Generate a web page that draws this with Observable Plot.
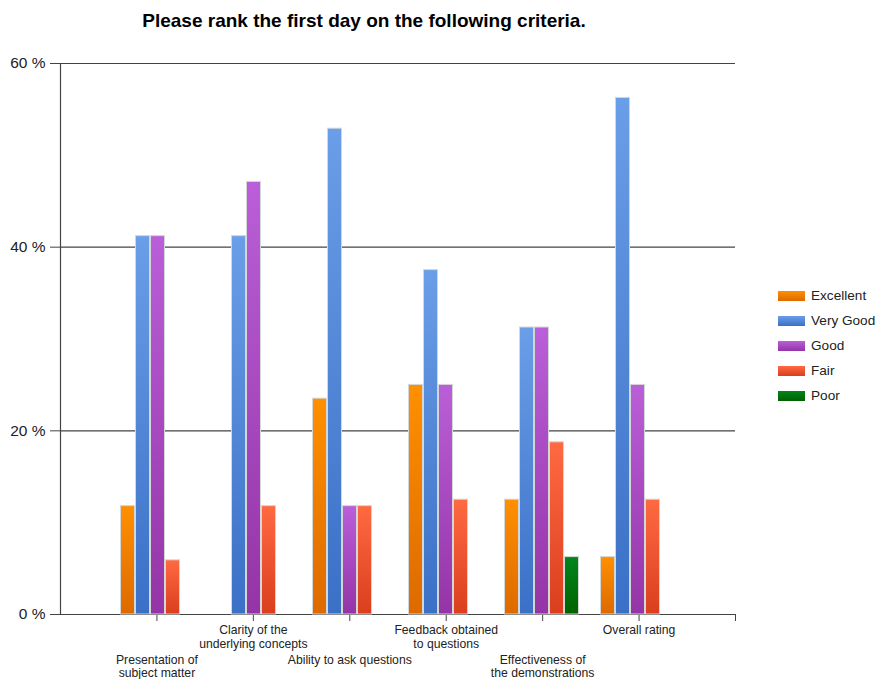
<!DOCTYPE html>
<html><head><meta charset="utf-8">
<script src="https://cdn.jsdelivr.net/npm/d3@7"></script>
<script src="https://cdn.jsdelivr.net/npm/@observablehq/plot@0.6"></script>
<style>
body{margin:0;background:#fff;font-family:"Liberation Sans",Arial,sans-serif;}
#wrap{position:relative;width:875px;height:679px;overflow:hidden;}
#wrap svg{position:absolute;left:0;top:0;}
#title{position:absolute;left:0;top:10px;width:728px;text-align:center;font-weight:bold;font-size:19px;color:#000;}
#legend{position:absolute;left:778px;top:283px;font-size:13.6px;color:#222;white-space:nowrap;}
.item{display:flex;align-items:center;height:25px;white-space:nowrap;}
.sw{width:27px;height:10px;margin-right:6px;flex:none;}
</style></head><body>
<div id="wrap"><div id="title">Please rank the first day on the following criteria.</div><div id="legend"></div></div>
<script>
const categories = ["Presentation of\nsubject matter", "Clarity of the\nunderlying concepts", "Ability to ask questions", "Feedback obtained\nto questions", "Effectiveness of\nthe demonstrations", "Overall rating"];
const seriesNames = ["Excellent", "Very Good", "Good", "Fair", "Poor"];
const excellent = [11.8, 0, 23.5, 25, 12.5, 6.25];
const veryGood = [41.2, 41.2, 52.9, 37.5, 31.25, 56.25];
const good = [41.2, 47.1, 11.8, 25, 31.25, 25];
const fair = [5.9, 11.8, 11.8, 12.5, 18.75, 12.5];
const poor = [0, 0, 0, 0, 6.25, 0];
const yTicks = [0, 20, 40, 60];
const gradTop = ["#ff9000", "#6a9ee8", "#ba5fd9", "#ff6a42", "#00861c"];
const gradBottom = ["#dc6a00", "#3a70c6", "#9434a6", "#da3e1e", "#006200"];

const seriesValues = [excellent, veryGood, good, fair, poor];
const data = [];
categories.forEach((c, i) => seriesNames.forEach((s, j) => data.push({cat: c, series: s, value: seriesValues[j][i]})));
const labels = categories.map((c, i) => ({cat: c, pos: i + 1, idx: i}));

const W = 875, H = 679, mt = 63, mb = 65, ml = 60, mr = 140;
const font = '"Liberation Sans", Arial, sans-serif';
const axisColor = "#444";

const base = Plot.plot({
  width: W, height: H, marginTop: mt, marginBottom: mb, marginLeft: ml, marginRight: mr,
  style: {fontFamily: font, fontSize: "13px", color: "#222", background: "transparent", overflow: "visible"},
  x: {domain: [0, categories.length + 1], label: null},
  y: {domain: [0, 60], label: null},
  marks: [
    Plot.ruleY(yTicks.filter(d => d > 0), {stroke: axisColor, strokeWidth: 1.2}),
    Plot.axisY({ticks: yTicks, tickSize: 10, tickPadding: 5, tickFormat: d => d + " %", stroke: axisColor, fill: "#222", fontSize: 15.5, label: null}),
    Plot.axisX({ticks: d3.range(1, categories.length + 2), tickSize: 7, tickFormat: () => "", stroke: axisColor, label: null}),
    Plot.ruleY([0], {stroke: axisColor, strokeWidth: 1.2}),
    Plot.ruleX([0], {stroke: axisColor, strokeWidth: 1.2}),
    Plot.text(labels.filter(d => d.idx % 2 === 1), {x: "pos", y: 0, text: "cat", lineAnchor: "top", dy: 10, fontSize: 12.2, lineHeight: 1.15, fill: "#222"}),
    Plot.text(labels.filter(d => d.idx % 2 === 0), {x: "pos", y: 0, text: "cat", lineAnchor: "top", dy: 40, fontSize: 12.2, lineHeight: 1.1, fill: "#222"})
  ]
});

const bars = Plot.plot({
  width: W, height: H, marginTop: mt, marginBottom: mb, marginLeft: ml, marginRight: mr,
  style: {background: "transparent", overflow: "visible"},
  fx: {domain: categories, paddingInner: 0.18, paddingOuter: 0.59, axis: null, label: null},
  x: {domain: seriesNames, padding: 0, axis: null},
  y: {domain: [0, 60], axis: null},
  color: {domain: seriesNames, range: seriesNames.map((s, i) => `url(#grad${i})`)},
  marks: [
    Plot.barY(data.filter(d => d.value > 0), {fx: "cat", x: "series", y: "value", fill: "series", stroke: "#d6d6d6", strokeWidth: 1, insetLeft: 0.5, insetRight: 0.5})
  ]
});

const defs = d3.select(bars).insert("defs", ":first-child");
seriesNames.forEach((s, i) => {
  const g = defs.append("linearGradient").attr("id", `grad${i}`).attr("x1", 0).attr("y1", 0).attr("x2", 0).attr("y2", 1);
  g.append("stop").attr("offset", "0%").attr("stop-color", gradTop[i]);
  g.append("stop").attr("offset", "100%").attr("stop-color", gradBottom[i]);
});

const wrap = document.getElementById("wrap");
wrap.insertBefore(base, wrap.firstChild);
wrap.insertBefore(bars, base.nextSibling);

const legend = document.getElementById("legend");
seriesNames.forEach((s, i) => {
  const item = document.createElement("div");
  item.className = "item";
  const sw = document.createElement("div");
  sw.className = "sw";
  sw.style.background = `linear-gradient(${gradTop[i]}, ${gradBottom[i]})`;
  const t = document.createElement("span");
  t.textContent = s;
  item.appendChild(sw); item.appendChild(t);
  legend.appendChild(item);
});
</script>
</body></html>
